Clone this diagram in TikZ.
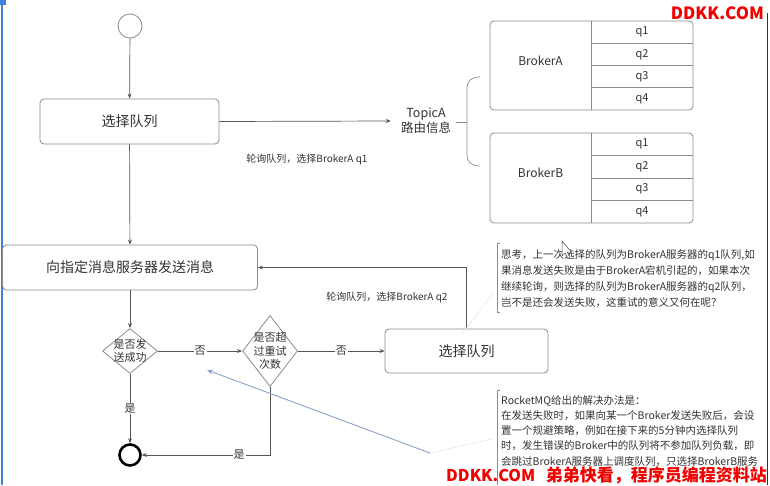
\documentclass[tikz,border=0pt]{standalone}
\usepackage{fontspec}
\usepackage{graphicx}
\setmainfont{Noto Sans CJK SC}
\usetikzlibrary{shapes.geometric,arrows.meta}
\definecolor{boxc}{HTML}{8C8C8C}
\definecolor{linec}{HTML}{555555}
\definecolor{txt}{HTML}{333333}
\definecolor{wmred}{HTML}{F20000}
\definecolor{penblue}{HTML}{8AA2C6}
\definecolor{edgeblue}{HTML}{3F80E0}
\tikzset{
  box/.style={draw=boxc, line width=0.8pt, rounded corners=4pt, inner sep=0pt, text=txt, font=\fontsize{14}{16}\selectfont},
  decision/.style={diamond, draw=boxc, line width=0.8pt, inner sep=0pt},
  dtext/.style={align=center, text=txt, inner sep=0pt, font=\fontsize{11}{13.5}\selectfont},
  conn/.style={draw=linec, line width=0.7pt, -{Stealth[length=5pt,width=4pt]}},
  lbl/.style={fill=white, text=txt, inner sep=1pt, font=\fontsize{11}{13}\selectfont},
  small/.style={text=txt, inner sep=0pt, font=\fontsize{10}{12}\selectfont},
  cell/.style={text=txt, inner sep=0pt, font=\fontsize{11}{13}\selectfont},
  note/.style={align=left, text=txt, inner sep=0pt, anchor=north west},
  brk/.style={draw=boxc, line width=0.7pt},
  faint/.style={draw=black!7, line width=0.8pt},
  wm/.style={text=wmred, inner sep=0pt, font=\bfseries\fontsize{18}{20}\selectfont}
}
\begin{document}
\begin{tikzpicture}[x=1pt,y=-1pt]
\useasboundingbox (0,0) rectangle (770,485);
\fill[white] (0,0) rectangle (770,485);
% screen edges
\draw[edgeblue, line width=1.5pt] (2,0) -- (2,485);
\fill[edgeblue] (0,0) rectangle (6,5);
\draw[black!80, line width=1pt] (767.5,13) -- (767.5,485);

% left flow
\node[circle, draw=boxc, line width=0.8pt, minimum size=24pt, inner sep=0pt] (start) at (130,26) {};
\node[box, minimum width=179pt, minimum height=45pt] (b1) at (129.5,121.5) {选择队列};
\node[box, minimum width=255pt, minimum height=45pt] (b2) at (130,267.5) {向指定消息服务器发送消息};
\node[decision, minimum width=55pt, minimum height=45pt] (d1) at (130,351) {};
\node[dtext] (d1t) at (130,351) {是否发\\送成功};
\node[decision, minimum width=55pt, minimum height=71pt] (d2) at (270,351) {};
\node[dtext] (d2t) at (270,351) {是否超\\过重试\\次数};
\node[box, minimum width=163pt, minimum height=44pt] (b3) at (466.5,351) {选择队列};
\node[circle, draw=black, line width=2.6pt, minimum size=21pt, inner sep=0pt] (end) at (130,455) {};

% topic
\node[align=center, text=txt, inner xsep=10pt, inner ysep=0pt, font=\fontsize{12.5}{15}\selectfont] (topic) at (426,121) {TopicA\\路由信息};
\node[small] (lab1) at (307,159) {轮询队列，选择BrokerA q1};
\node[small] (lab2) at (387,297) {轮询队列，选择BrokerA q2};

% connectors
\draw[conn] (start) -- (b1);
\draw[conn] (b1.east) -- (topic.west);
\draw[conn] (b1) -- (b2);
\draw[conn] (b2) -- (d1);
\draw[conn] (d1) -- node[lbl] (no1) {否} (d2);
\draw[conn] (d2) -- node[lbl] (no2) {否} (b3);
\draw[conn] (b3.north) |- (b2.east);
\draw[conn] (d1) -- node[lbl] (yes1) {是} (end);
\draw[conn] (d2.south) |- node[lbl, pos=0.62] (yes2) {是} (end.east);

% brace
\draw[brk] (480,77) .. controls (471,77) and (467,81) .. (467,89) -- (467,154) .. controls (467,162) and (471,166) .. (480,166);
\draw[brk] (467,122) -- (456,122);

% broker A
\node[draw=boxc, line width=0.8pt, rounded corners=4pt, minimum width=203pt, minimum height=89pt, inner sep=0pt] (bA) at (591.5,65.5) {};
\draw[brk] (591,21) -- (591,110);
\foreach \y in {43.3,65.5,87.8} \draw[brk] (591,\y) -- (693,\y);
\node[text=txt, inner sep=0pt, font=\fontsize{12}{14}\selectfont] (bAt) at (540.5,61) {BrokerA};
\node[cell] (qa1) at (642,32.2) {q1};
\node[cell] (qa2) at (642,54.4) {q2};
\node[cell] (qa3) at (642,76.6) {q3};
\node[cell] (qa4) at (642,98.9) {q4};
% broker B
\node[draw=boxc, line width=0.8pt, rounded corners=4pt, minimum width=203pt, minimum height=90pt, inner sep=0pt] (bB) at (591.5,178) {};
\draw[brk] (591,133) -- (591,223);
\foreach \y in {155.5,178,200.5} \draw[brk] (591,\y) -- (693,\y);
\node[text=txt, inner sep=0pt, font=\fontsize{12}{14}\selectfont] (bBt) at (540.5,173) {BrokerB};
\node[cell] (qb1) at (642,144.2) {q1};
\node[cell] (qb2) at (642,166.7) {q2};
\node[cell] (qb3) at (642,189.2) {q3};
\node[cell] (qb4) at (642,211.7) {q4};

% note 1
\draw[brk] (500,243) -- (497,243) -- (497,312) -- (500,312);
\node[note, font=\fontsize{10.5}{16}\selectfont] (n1) at (501,249) {思考，上一次选择的队列为BrokerA服务器的q1队列,如\\果消息发送失败是由于BrokerA宕机引起的，如果本次\\继续轮询，则选择的队列为BrokerA服务器的q2队列，\\岂不是还会发送失败，这重试的意义又何在呢？};
% note 2
\draw[brk] (500,390) -- (497,390) -- (497,485);
\node[note, font=\fontsize{10.5}{15.3}\selectfont] (n2) at (501,395) {RocketMQ给出的解决办法是：\\在发送失败时，如果向某一个Broker发送失败后，会设\\置一个规避策略，例如在接下来的5分钟内选择队列\\时，发生错误的Broker中的队列将不参加队列负载，即\\会跳过BrokerA服务器上调度队列，只选择BrokerB服务};

% pen annotation
\coordinate (p1) at (430,453);
\coordinate (p2) at (207,370);
\coordinate (p3) at (492,439);
\coordinate (p4) at (462,334);
\coordinate (p5) at (494,292);
\draw[faint] (p1) -- (p3);
\draw[faint] (p4) -- (p5);
\draw[penblue, line width=0.9pt, -{Stealth[length=6pt,width=5pt]}] (p1) -- (p2);

% cursor
\coordinate (c0) at (562,241);
\draw[black!70, fill=white, line width=0.5pt] (c0) -- ++(0,15) -- ++(3.2,-3) -- ++(2.6,5.5) -- ++(2,-0.9) -- ++(-2.5,-5.4) -- ++(4.3,0) -- cycle;

% watermarks
\node[wm, anchor=east] (wm1) at (764,13.5) {\resizebox{93pt}{!}{DDKK.COM}};
\node[wm, anchor=west] (wm2) at (446,475.5) {\resizebox{89pt}{!}{DDKK.COM}};
\node[wm, anchor=east] (wm3) at (767,475.5) {\resizebox{221pt}{!}{弟弟快看，程序员编程资料站}};
\end{tikzpicture}
\end{document}
